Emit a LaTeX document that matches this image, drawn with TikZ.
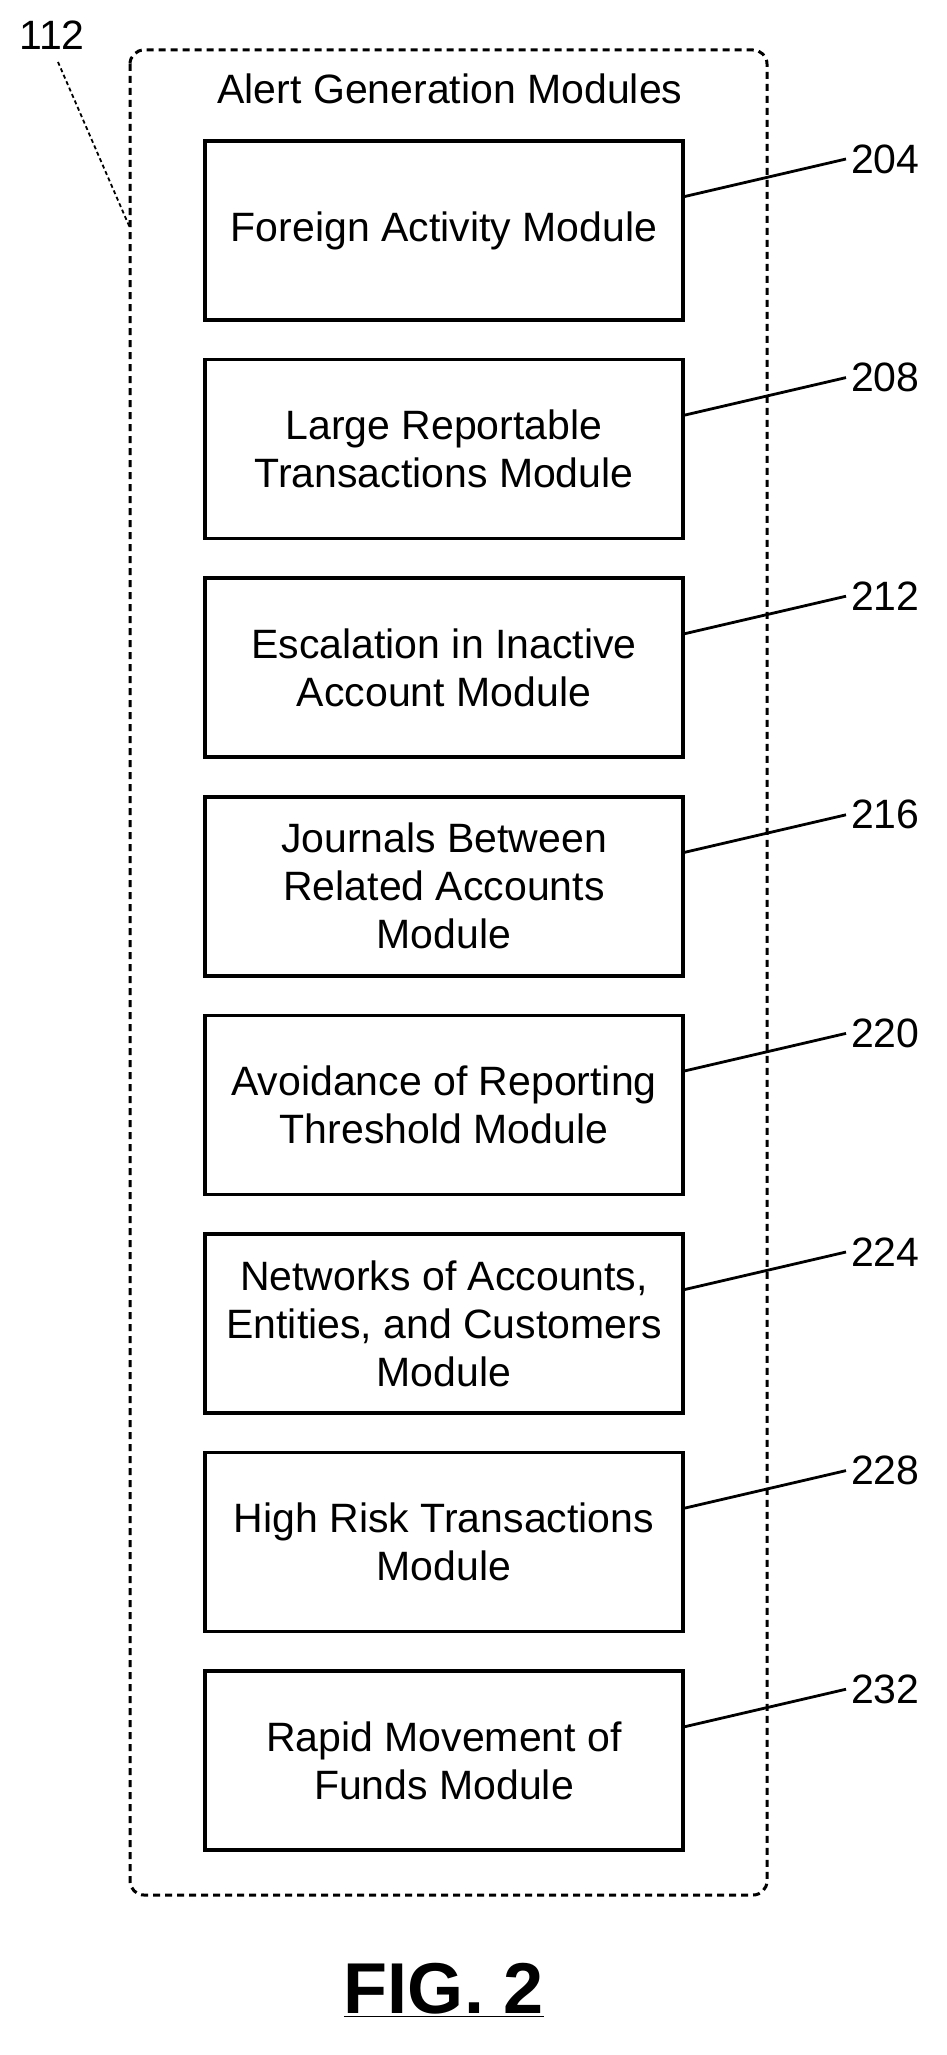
\documentclass[tikz,border=0pt]{standalone}
\usepackage{fontspec}
\setmainfont{Liberation Sans}
\begin{document}
\begin{tikzpicture}[x=1pt,y=-1pt,line width=3.5pt,
    module/.style={draw,minimum width=478pt,minimum height=179pt,align=center,
      font=\fontsize{41}{48}\selectfont},
    refnum/.style={font=\fontsize{41}{46}\selectfont},
    leader/.style={line width=2.8pt}]
  \useasboundingbox (0,0) rectangle (946,2055);
  % outer dashed container
  \draw[dash pattern=on 7pt off 5pt,line width=3pt,rounded corners=14pt] (130,50) rectangle (767,1895);
  \node[font=\fontsize{41}{46}\selectfont] (title) at (450,89) {Alert Generation Modules};
  \node[refnum] (n112) at (52,35) {112};
  \draw[dash pattern=on 4pt off 3pt,line width=1.8pt] (58,62) -- (130,228);
  % modules
  \foreach \i/\txt/\num in {0/{Foreign Activity Module}/204,
      1/{Large Reportable\\Transactions Module}/208,
      2/{Escalation in Inactive\\Account Module}/212,
      3/{Journals Between\\Related Accounts\\Module}/216,
      4/{Avoidance of Reporting\\Threshold Module}/220,
      5/{Networks of Accounts,\\Entities, and Customers\\Module}/224,
      6/{High Risk Transactions\\Module}/228,
      7/{Rapid Movement of\\Funds Module}/232}{
    \node[module] (m\num) at (444,230.5+218.6*\i) {\txt};
    \node[refnum,anchor=west] (r\num) at (846,159+218.6*\i) {\num};
    \draw[leader] ([yshift=34pt]m\num.east) -- (r\num.west);
  }
  \node[font=\bfseries\fontsize{72}{80}\selectfont] (fig) at (444,1990) {\underline{FIG. 2}};
\end{tikzpicture}
\end{document}
